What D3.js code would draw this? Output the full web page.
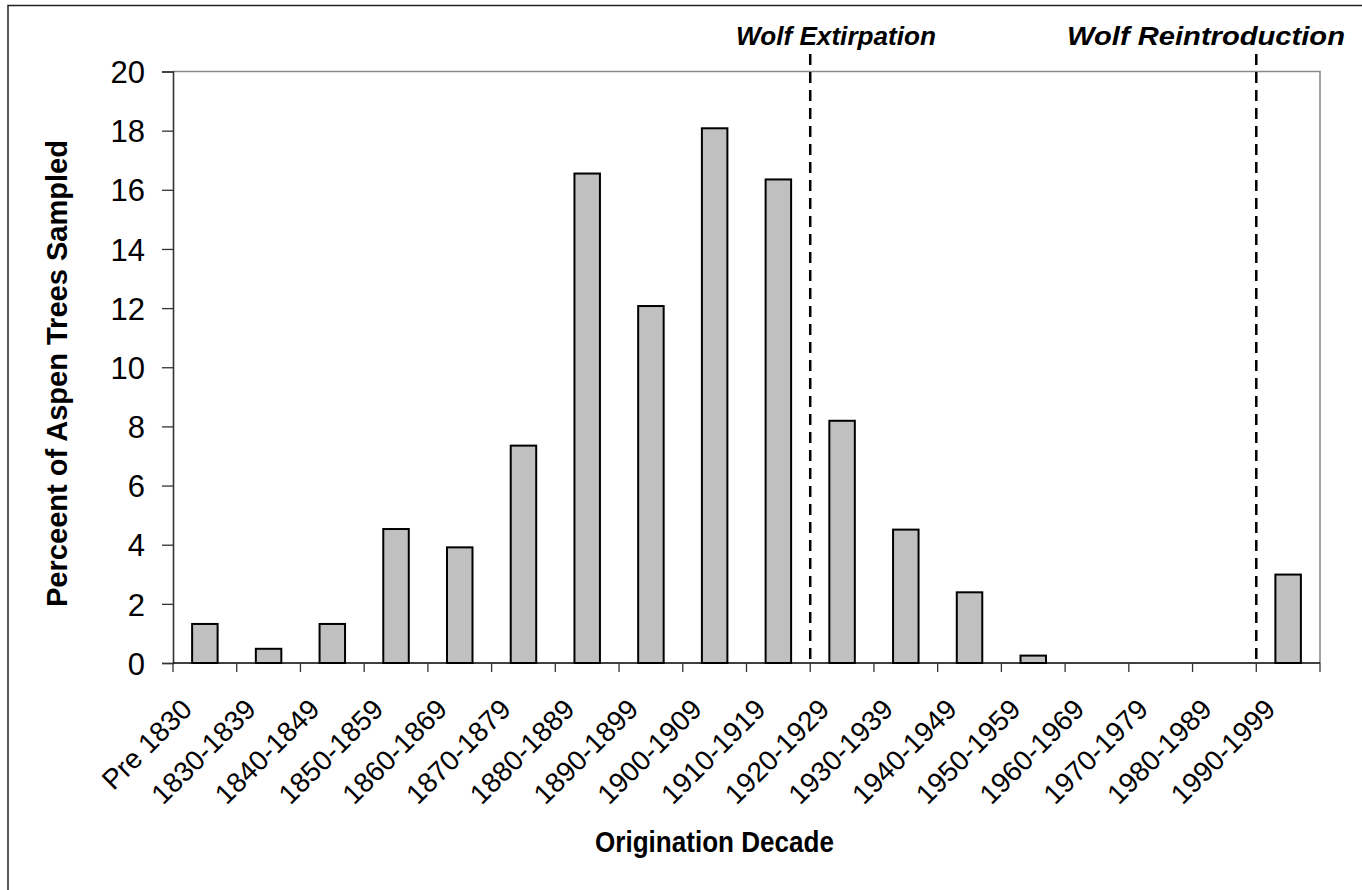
<!DOCTYPE html>
<html><head><meta charset="utf-8">
<script src="https://cdn.jsdelivr.net/npm/d3@7"></script>
<style>
html,body{margin:0;padding:0;background:#fff;}
svg{display:block;font-family:"Liberation Sans",Arial,sans-serif;}
</style></head>
<body>
<svg id="chart" width="1362" height="890"></svg>
<script>
const categories = ["Pre 1830","1830-1839","1840-1849","1850-1859","1860-1869","1870-1879","1880-1889","1890-1899","1900-1909","1910-1919","1920-1929","1930-1939","1940-1949","1950-1959","1960-1969","1970-1979","1980-1989","1990-1999"];
const percents = [1.32,0.48,1.32,4.53,3.91,7.35,16.55,12.07,18.08,16.35,8.19,4.51,2.39,0.25,0,0,0,2.99];
const yTicks = [0,2,4,6,8,10,12,14,16,18,20];
const events = [{label:"Wolf Extirpation", after:"1910-1919"},{label:"Wolf Reintroduction", after:"1980-1989"}];

const svg = d3.select("#chart");
const m = {left:173, right:1320, top:71.5, bottom:663};

// outer frame
svg.append("rect").attr("x",8).attr("y",5.5).attr("width",1400).attr("height",1000)
  .attr("fill","none").attr("stroke","#222").attr("stroke-width",1.5);

const x = d3.scaleBand().domain(categories).range([m.left,m.right]).paddingInner(0.6).paddingOuter(0.3);
const y = d3.scaleLinear().domain([0,20]).range([m.bottom,m.top]);
const step = x.step(), bw = x.bandwidth();
const boundary = i => m.left + i*step;

// plot frame top/right
svg.append("path").attr("d",`M${m.left},${y(20)}H${m.right}V${m.bottom}`)
  .attr("fill","none").attr("stroke","#8a8a8a").attr("stroke-width",1.6);

// bars
svg.append("g").selectAll("rect").data(categories).join("rect")
  .attr("x",d=>x(d)).attr("width",bw)
  .attr("y",(d,i)=>y(percents[i])).attr("height",(d,i)=>y(0)-y(percents[i]))
  .attr("fill","#c0c0c0").attr("stroke","#000").attr("stroke-width",2);

// y axis
const ya = svg.append("g").attr("transform",`translate(${m.left},0)`)
  .call(d3.axisLeft(y).tickValues(yTicks).tickSize(11).tickPadding(0).tickFormat(d3.format("d")));
ya.select(".domain").attr("stroke","#333").attr("stroke-width",1.6);
ya.selectAll(".tick line").attr("stroke","#333").attr("stroke-width",1.3);
ya.selectAll(".tick text").text(null);
ya.selectAll(".tick").append("text")
  .attr("x",-28).attr("text-anchor","end").attr("dy","0.36em")
  .attr("font-size",31).attr("fill","#000")
  .text(d=>d);

// x axis
svg.append("line").attr("x1",m.left).attr("x2",m.right).attr("y1",y(0)).attr("y2",y(0))
  .attr("stroke","#000").attr("stroke-width",1.6);
svg.append("g").selectAll("line").data(d3.range(categories.length+1)).join("line")
  .attr("x1",i=>boundary(i)).attr("x2",i=>boundary(i))
  .attr("y1",y(0)).attr("y2",y(0)+9).attr("stroke","#333").attr("stroke-width",1.3);
svg.append("g").selectAll("text").data(categories).join("text")
  .attr("transform",d=>`translate(${x(d)+bw/2-11},711) rotate(-45)`)
  .attr("text-anchor","end").attr("font-size",28).attr("fill","#000")
  .text(d=>d);

// axis titles
svg.append("text").attr("x",714.5).attr("y",852).attr("text-anchor","middle")
  .attr("font-size",29).attr("font-weight","bold").attr("textLength",239).attr("lengthAdjust","spacingAndGlyphs")
  .text("Origination Decade");
svg.append("text").attr("transform","translate(67,373.5) rotate(-90)").attr("text-anchor","middle")
  .attr("font-size",29).attr("font-weight","bold").attr("textLength",467).attr("lengthAdjust","spacingAndGlyphs")
  .text("Perceent of Aspen Trees Sampled");

// event lines
events.forEach((e,k)=>{
  const i = categories.indexOf(e.after)+1;
  const bx = boundary(i);
  svg.append("line").attr("x1",bx).attr("x2",bx).attr("y1",54).attr("y2",y(0))
    .attr("stroke","#000").attr("stroke-width",2.5).attr("stroke-dasharray","11,7");
});
svg.append("text").attr("x",736).attr("y",45).attr("font-size",26).attr("font-weight","bold").attr("font-style","italic")
  .attr("textLength",200).attr("lengthAdjust","spacingAndGlyphs").text(events[0].label);
svg.append("text").attr("x",1067).attr("y",45).attr("font-size",26).attr("font-weight","bold").attr("font-style","italic")
  .attr("textLength",278).attr("lengthAdjust","spacingAndGlyphs").text(events[1].label);
</script>
</body></html>
